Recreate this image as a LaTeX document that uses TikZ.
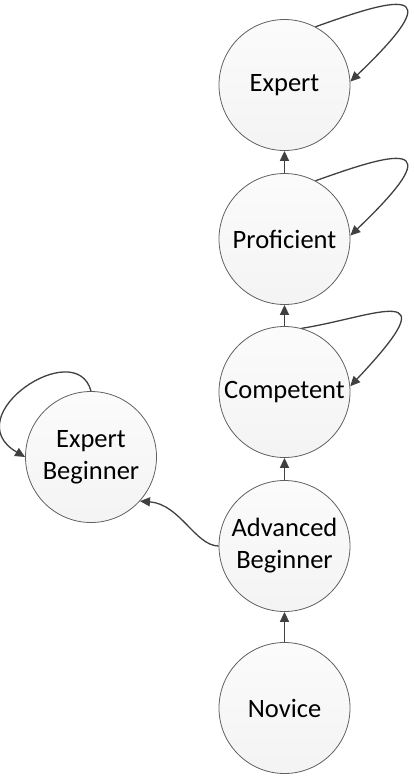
\documentclass[tikz,border=0pt]{standalone}
\usepackage{fontspec}
\setmainfont{Carlito}
\usetikzlibrary{arrows.meta}
\definecolor{edgegray}{HTML}{404040}
\definecolor{rimgray}{HTML}{606060}
\tikzset{
  state/.style={circle, minimum size=131pt, inner sep=0pt, draw=rimgray, line width=0.8pt,
    top color=gray!3, bottom color=gray!9, align=center,
    font=\fontsize{26.5}{32}\selectfont},
  conn/.style={draw=edgegray, line width=1.6pt, -{Triangle[length=10pt,width=9pt]}},
  loopconn/.style={draw=edgegray, line width=1.3pt, -{Triangle[length=10pt,width=9pt]}}
}
\begin{document}
\begin{tikzpicture}[x=1pt,y=1pt]
\useasboundingbox (0,0) rectangle (413,-777);
\node[state] (expert) at (284.5,-85) {Expert};
\node[state] (prof) at (284.5,-239) {Proficient};
\node[state] (comp) at (284.5,-392) {Competent};
\node[state] (adv) at (284.5,-546) {Advanced\\Beginner};
\node[state] (nov) at (284.5,-708) {Novice};
\node[state] (eb) at (91,-457) {Expert\\Beginner};

\draw[conn] (nov.north) -- (adv.south);
\draw[conn] (adv.north) -- (comp.south);
\draw[conn] (comp.north) -- (prof.south);
\draw[conn] (prof.north) -- (expert.south);

\draw[loopconn] (expert.62) .. controls +(75pt,27pt) and +(107pt,102pt) .. (expert.3);
\draw[loopconn] (prof.62) .. controls +(75pt,27pt) and +(107pt,102pt) .. (prof.3);
\draw[loopconn] (comp.75) .. controls +(75pt,12pt) and +(102pt,108pt) .. (comp.5);
\draw[loopconn] (eb.north) .. controls +(-15pt,56pt) and +(-70pt,41pt) .. (eb.west);
\draw[loopconn] (adv.west) .. controls +(-23pt,0pt) and +(40pt,-3pt) .. (eb.-42);
\end{tikzpicture}
\end{document}
